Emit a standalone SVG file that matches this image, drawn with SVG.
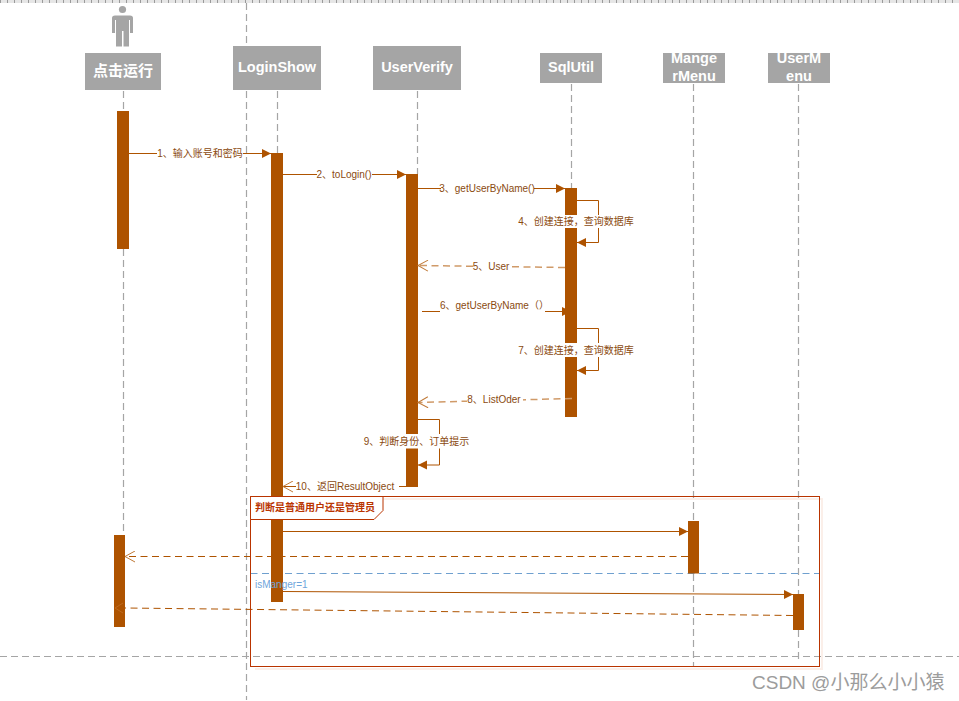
<svg xmlns="http://www.w3.org/2000/svg" width="959" height="701" viewBox="0 0 959 701">
<style>
text{font-family:"Liberation Sans","Noto Sans CJK SC",sans-serif}
.head{fill:#a5a5a5}
.ht{fill:#fff;font-size:14.500px;font-weight:bold;text-anchor:middle}
.life{stroke:#a5a5a5;stroke-width:1.2;stroke-dasharray:7 4;fill:none}
.bar{fill:#ae5300}
.msg{stroke:#ae5300;stroke-width:1;fill:none}
.dash{stroke-dasharray:7 4.500}
.pale{stroke:#d09a68;stroke-width:1.500}
.lb{fill:#8a4a10;font-size:10px;text-anchor:middle}
.bg{fill:#fff}
</style>
<defs>
<marker id="solid" markerUnits="userSpaceOnUse" markerWidth="10" markerHeight="10" refX="9" refY="5" orient="auto"><path d="M0 .5L9 5L0 9.500Z" fill="#ae5300"/></marker>
<marker id="open" markerUnits="userSpaceOnUse" markerWidth="12" markerHeight="12" refX="11" refY="6" orient="auto"><path d="M1 .5L11 6L1 11.500" fill="none" stroke="#c07a38" stroke-width="1"/></marker>
<pattern id="ruler" width="7" height="3" patternUnits="userSpaceOnUse"><rect width="7" height="3" fill="#e6e6e6"/><path d="M.5 0V3" stroke="#9a9a9a"/></pattern>
</defs>
<rect width="959" height="701" fill="#fff"/>
<rect id="ruler-strip" width="959" height="3" fill="url(#ruler)"/>
<g id="grid-guides">
<path class="life" d="M246.500 3V700"/>
<path class="life" d="M0 656.500H959"/>
</g>
<g id="lifelines">
<path class="life" d="M123.500 91V111M123.500 249V535"/>
<path class="life" d="M277.500 91V153"/>
<path class="life" d="M417.500 91V174"/>
<path class="life" d="M571.500 84V188"/>
<path class="life" d="M693.500 84V521M693.500 574V666"/>
<path class="life" d="M798.500 84V594M798.500 630V663"/>
</g>
<g id="actor"><circle cx="122.500" cy="9.500" r="3.600" fill="#a5a5a5"/><path d="M112 18Q112 15.500 115 15.500H130Q133 15.500 133 18V33H130V20H129V46.500H123.500V31H122V46.500H116V20H115V33H112Z" fill="#a5a5a5"/><rect class="head" x="85" y="53" width="76" height="37"/><text class="ht" x="123" y="76" style="font-size:15px">点击运行</text></g>
<g id="node-loginshow"><rect class="head" x="233" y="46" width="88" height="44"/><text class="ht" x="277" y="72">LoginShow</text></g>
<g id="node-userverify"><rect class="head" x="373" y="46" width="88" height="44"/><text class="ht" x="417" y="72">UserVerify</text></g>
<g id="node-sqlutil"><rect class="head" x="540" y="53" width="62" height="30"/><text class="ht" x="571" y="72">SqlUtil</text></g>
<g id="node-mangermenu"><rect class="head" x="663" y="53" width="62" height="30"/><text class="ht" x="694" y="63">Mange</text><text class="ht" x="694" y="81">rMenu</text></g>
<g id="node-usermenu"><rect class="head" x="768" y="53" width="62" height="30"/><text class="ht" x="799" y="63">UserM</text><text class="ht" x="799" y="81">enu</text></g>
<path id="alt-divider" d="M250.500 573.500H819.500" stroke="#6fa0cf" stroke-dasharray="7 4.500" fill="none"/>
<g id="activations">
<rect class="bar" x="117" y="111" width="12" height="138"/>
<rect class="bar" x="271" y="153" width="12" height="449"/>
<rect class="bar" x="406" y="174" width="12" height="313"/>
<rect class="bar" x="565" y="188" width="12" height="229"/>
<rect class="bar" x="688" y="521" width="11" height="52.500"/>
<rect class="bar" x="793" y="594" width="11" height="36"/>
<rect class="bar" x="114" y="535" width="11" height="92"/>
</g>
<g id="connectors">
<path class="msg" marker-end="url(#solid)" d="M129 153.500H271"/>
<path class="msg" marker-end="url(#solid)" d="M283 174.500H406"/>
<path class="msg" marker-end="url(#solid)" d="M418 188.500H565"/>
<path class="msg" marker-end="url(#solid)" d="M577 200.500H598.500V242.500H577"/>
<path class="msg pale dash" marker-end="url(#open)" d="M565 267.500L418 265.500"/>
<path class="msg" marker-end="url(#solid)" d="M422 311.500H571"/>
<path class="msg" marker-end="url(#solid)" d="M577 328.500H598.500V370.500H577"/>
<path class="msg pale dash" marker-end="url(#open)" d="M572 398.500L418 402.500"/>
<path class="msg" marker-end="url(#solid)" d="M418 419.500H439.500V465H418"/>
<path class="msg" marker-end="url(#open)" d="M406 486.500H283"/>
<path class="msg" marker-end="url(#solid)" d="M283 531.500H688"/>
<path class="msg dash" marker-end="url(#open)" d="M688 556.500H125"/>
<path class="msg" marker-end="url(#solid)" d="M283 591.500L793 594.500"/>
<path class="msg dash" d="M793 615.500L125 608"/>
<path class="msg" d="M123 603L115 608L123 613" style="stroke:#bd6a20"/>
</g>
<g id="fragment">
<path d="M255 499H822V669H255" fill="none" stroke="#fbefe9" stroke-width="2"/>
<rect x="250.500" y="496.500" width="569" height="170" fill="none" stroke="#b93400"/>
<path d="M250.500 496.500H383V510.500L374 519.500H250.500Z" fill="#fff" stroke="#b93400"/>
<text x="255" y="511" font-size="10" font-weight="bold" fill="#b93400">判断是普通用户还是管理员</text>
<text x="255" y="587.500" font-size="10" fill="#6fa5db">isManger=1</text>
</g>
<g id="labels">
<rect class="bg" x="157" y="147" width="86" height="12"/><text class="lb" x="200" y="156.500">1、输入账号和密码</text>
<rect class="bg" x="317" y="168" width="55" height="12"/><text class="lb" x="344" y="177.500">2、toLogin()</text>
<rect class="bg" x="441" y="182" width="93" height="12"/><text class="lb" x="487" y="191.500">3、getUserByName()</text>
<rect class="bg" x="518" y="215" width="115" height="13"/><text class="lb" x="576" y="224.500">4、创建连接，查询数据库</text>
<rect class="bg" x="473" y="260" width="37" height="12"/><text class="lb" x="491" y="269.500">5、User</text>
<rect class="bg" x="440" y="299" width="105" height="14"/><text class="lb" x="440" y="309" style="text-anchor:start">6、getUserByName（）</text>
<rect class="bg" x="518" y="343" width="115" height="14"/><text class="lb" x="576" y="353.500">7、创建连接，查询数据库</text>
<rect class="bg" x="467" y="393" width="56" height="12"/><text class="lb" x="494" y="403">8、ListOder</text>
<rect class="bg" x="364" y="434" width="105" height="14.500"/><text class="lb" x="416.500" y="445">9、判断身份、订单提示</text>
<rect class="bg" x="296" y="480" width="103" height="12"/><text class="lb" x="345" y="489.500">10、返回ResultObject</text>
</g>
<text id="watermark" x="752" y="689" font-size="19" fill="#9c9c9c">CSDN @小那么小小猿</text>
</svg>
